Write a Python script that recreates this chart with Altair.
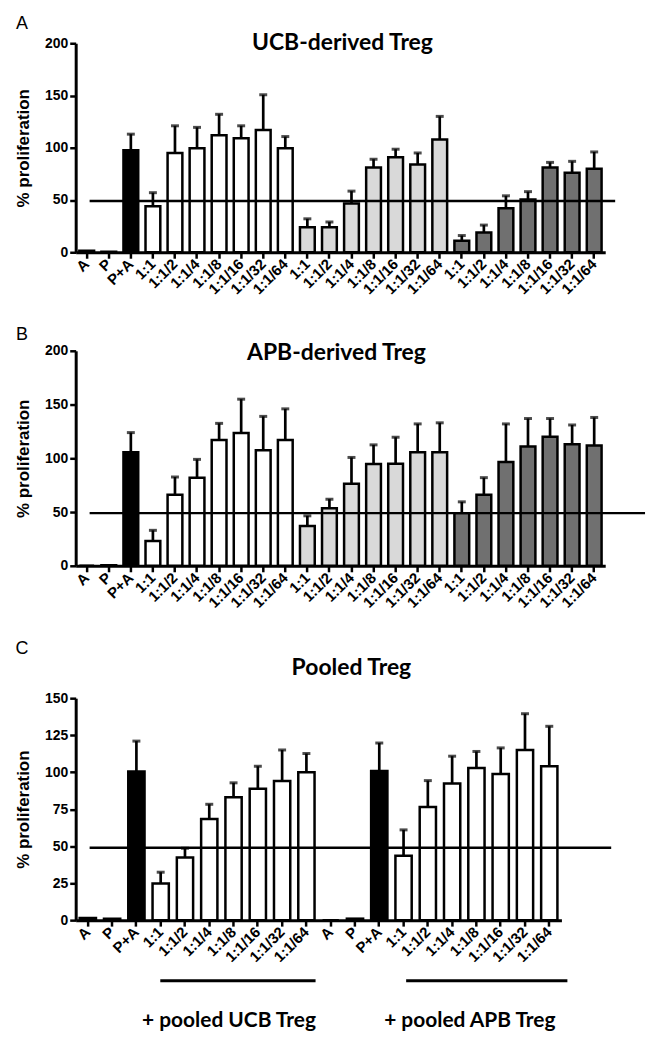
import altair as alt
import pandas as pd

ratios = ["1:1", "1:1/2", "1:1/4", "1:1/8", "1:1/16", "1:1/32", "1:1/64"]
controls = ["A", "P", "P+A"]

labels_ab = controls + ratios * 3
groups_ab = ["ctrl"] * 3 + ["white"] * 7 + ["light"] * 7 + ["dark"] * 7
labels_c = (controls + ratios) * 2
groups_c = (["ctrl"] * 3 + ["white"] * 7) * 2

ucb_mean = [1.5, 0.5, 97.6, 44, 95, 99.5, 112, 109, 117, 99.5,
            24, 24, 46.7, 81, 91, 84, 108,
            11, 19, 42, 50.5, 81, 76, 80]
ucb_sem = [0, 0, 15.4, 13, 26, 20, 20, 12, 33.7, 11.2,
           8, 5, 11.8, 8, 7.6, 11, 22,
           5, 7, 12, 7.5, 5, 11, 16]

apb_mean = [0, 0.5, 105.7, 23, 66, 82, 117, 123.6, 107.5, 117,
            37, 53.6, 76.4, 94.6, 95, 105.7, 105.7,
            49, 66, 96.5, 111, 120, 113, 112]
apb_sem = [0, 0, 18.2, 10, 16.6, 17, 15.5, 31.4, 31.5, 29,
           9.5, 8.4, 24.4, 17.9, 24.6, 26.3, 27.3,
           10.5, 16, 35.5, 26, 17, 18, 26]

pooled_mean = [1.5, 1, 100.5, 24.8, 42.4, 68.3, 83, 88.8, 94, 100,
               0, 1, 100.8, 43.5, 76.5, 92.3, 102.8, 98.8, 115, 104]
pooled_sem = [0, 0, 20.5, 7.6, 6.2, 10, 9.8, 15.2, 21, 12.6,
              0, 0, 18.9, 17.5, 17.8, 18.5, 11.2, 17.6, 24.5, 27]

threshold = 49

group_domain = ["ctrl", "white", "light", "dark"]
group_colors = ["#000000", "#ffffff", "#d9d9d9", "#707070"]


def text_layer(txt, x, y, size, weight, font, align="center"):
    return alt.Chart(pd.DataFrame({"t": [txt]})).mark_text(
        fontSize=size, fontWeight=weight, font=font, align=align,
        baseline="middle", color="black"
    ).encode(text="t:N", x=alt.value(x), y=alt.value(y))


def panel(letter, title, labels, groups, mean, sem, width, height, ymax, ystep,
          yrange, line_end, title_pos, letter_pos):
    df = pd.DataFrame({"i": list(range(len(labels))), "label": labels,
                       "grp": groups, "mean": mean, "sem": sem})
    df["top"] = df["mean"] + df["sem"]
    label_expr = "[" + ",".join("'" + l + "'" for l in labels) + "][datum.value]"
    xenc = alt.X("i:O", scale=alt.Scale(paddingInner=0.33, paddingOuter=0.165),
                 axis=alt.Axis(title=None, labelExpr=label_expr, labelAngle=-45,
                               labelFontSize=15, labelPadding=3))
    yscale = alt.Scale(domain=[0, ymax], nice=False, zero=True, range=yrange)
    yenc = alt.Y("mean:Q", scale=yscale,
                 axis=alt.Axis(title="% proliferation",
                               values=list(range(0, ymax + 1, ystep)),
                               grid=False, titlePadding=12))
    base = alt.Chart(df)
    errdf = base.transform_filter("datum.sem > 0")
    err = errdf.mark_rule(color="black", strokeWidth=2.7).encode(
        x="i:O", y=alt.Y("mean:Q", scale=yscale), y2="top:Q")
    cap = errdf.mark_tick(color="black", thickness=3, size=8).encode(
        x="i:O", y=alt.Y("top:Q", scale=yscale))
    bars = base.mark_bar(stroke="black", strokeWidth=2.5).encode(
        x=xenc, y=yenc,
        fill=alt.Fill("grp:N", scale=alt.Scale(domain=group_domain, range=group_colors),
                      legend=None))
    line = alt.Chart(pd.DataFrame({"t": [threshold]})).mark_rule(
        color="black", strokeWidth=2.5).encode(
        y=alt.Y("t:Q", scale=yscale), x=alt.value(14), x2=alt.value(line_end))
    layers = [err, cap, bars, line,
              text_layer(title, title_pos[0], title_pos[1], 23, "bold", "Lato"),
              text_layer(letter, letter_pos[0], letter_pos[1], 18, "normal", "Liberation Sans")]
    return layers, width, height


A_layers, wA, hA = panel("A", "UCB-derived Treg", labels_ab, groups_ab, ucb_mean, ucb_sem,
                         532, 210, 200, 50, [210, 0], 542, (268, 0), (-54, -19))
B_layers, wB, hB = panel("B", "APB-derived Treg", labels_ab, groups_ab, apb_mean, apb_sem,
                         532, 216, 200, 50, [216, 0], 572, (262, 2), (-54, -16))
C_layers, wC, hC = panel("C", "Pooled Treg", labels_c, groups_c, pooled_mean, pooled_sem,
                         488, 257, 150, 25, [257, 34], 538, (277, 4), (-54, -15))

group_labels = ["+ pooled UCB Treg", "+ pooled APB Treg"]
brackets = [
    alt.Chart(pd.DataFrame({"g": [0]})).mark_rule(color="black", strokeWidth=3).encode(
        x=alt.value(85), x2=alt.value(241), y=alt.value(318)),
    alt.Chart(pd.DataFrame({"g": [1]})).mark_rule(color="black", strokeWidth=3).encode(
        x=alt.value(332), x2=alt.value(494), y=alt.value(318)),
    text_layer(group_labels[0], 154, 358, 21, "bold", "Lato"),
    text_layer(group_labels[1], 396, 358, 21, "bold", "Lato"),
]

A = alt.layer(*A_layers).properties(width=wA, height=hA)
B = alt.layer(*B_layers).properties(width=wB, height=hB)
C = alt.layer(*(C_layers + brackets)).properties(width=wC, height=hC)

chart = alt.vconcat(A, B, C, spacing=99, bounds="flush").properties(
    padding={"left": 6, "top": 5, "right": 5, "bottom": 5}
).configure_view(stroke=None).configure_axis(
    domainColor="black", domainWidth=3, tickColor="black", tickWidth=2.5, tickSize=6,
    labelColor="black", labelFont="Liberation Sans", labelFontWeight="bold",
    labelFontSize=14, titleFont="Liberation Sans", titleFontWeight="bold",
    titleFontSize=17, titleColor="black"
)

chart.save("out.html", embed_options={"renderer": "svg", "actions": False})
